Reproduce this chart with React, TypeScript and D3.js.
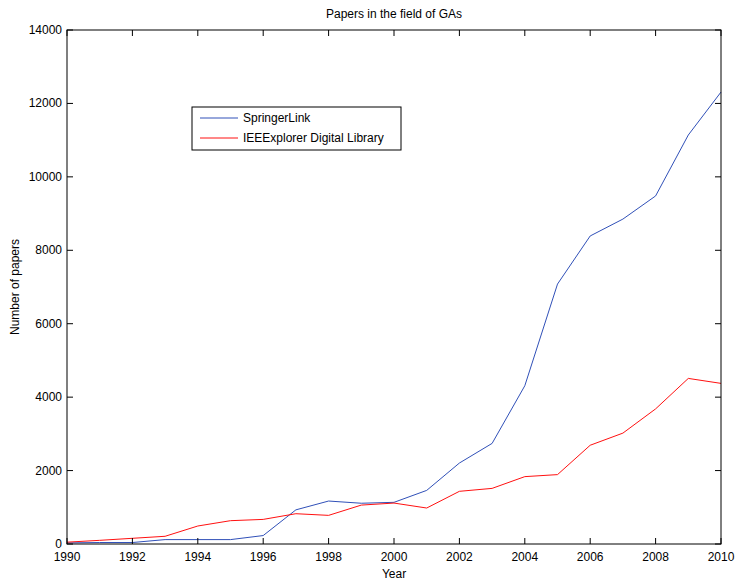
import React from "react";
import * as d3 from "d3";

const years = [1990, 1991, 1992, 1993, 1994, 1995, 1996, 1997, 1998, 1999, 2000, 2001, 2002, 2003, 2004, 2005, 2006, 2007, 2008, 2009, 2010];
const springer = [30, 40, 40, 120, 120, 120, 230, 930, 1170, 1110, 1135, 1460, 2205, 2740, 4310, 7080, 8390, 8850, 9480, 11140, 12310];
const ieee = [50, 100, 155, 210, 490, 635, 670, 825, 780, 1060, 1115, 980, 1435, 1515, 1835, 1890, 2690, 3020, 3680, 4510, 4375];
const xTicks = [1990, 1992, 1994, 1996, 1998, 2000, 2002, 2004, 2006, 2008, 2010];
const yTicks = [0, 2000, 4000, 6000, 8000, 10000, 12000, 14000];
const seriesNames = ["SpringerLink", "IEEExplorer Digital Library"];
const seriesColors = ["#3050b8", "#ff1010"];

export default function App() {
  const W = 735, H = 582;
  const L = 67, R = 721, T = 30, B = 544;
  const x = d3.scaleLinear().domain([1990, 2010]).range([L, R]);
  const y = d3.scaleLinear().domain([0, 14000]).range([B, T]);
  const line = d3.line<number>().x((_, i) => x(years[i])).y((v) => y(v));
  const font = "Arial, 'Liberation Sans', Helvetica, sans-serif";
  const tl = 6;
  return (
    <svg width={W} height={H} style={{ position: "absolute", left: 0, top: 0, background: "#fff" }} fontFamily={font}>
      <rect x={0} y={0} width={W} height={H} fill="#fff" />
      <text x={(L + R) / 2} y={18} textAnchor="middle" fontSize={12}>Papers in the field of GAs</text>
      <path d={line(springer) || ""} fill="none" stroke={seriesColors[0]} strokeWidth={1} />
      <path d={line(ieee) || ""} fill="none" stroke={seriesColors[1]} strokeWidth={1} />
      <rect x={L} y={T} width={R - L} height={B - T} fill="none" stroke="#000" strokeWidth={1} />
      {xTicks.map((t) => (
        <g key={"x" + t}>
          <line x1={x(t)} x2={x(t)} y1={B} y2={B - tl} stroke="#000" />
          <line x1={x(t)} x2={x(t)} y1={T} y2={T + tl} stroke="#000" />
          <text x={x(t)} y={561} textAnchor="middle" fontSize={12}>{t}</text>
        </g>
      ))}
      {yTicks.map((t) => (
        <g key={"y" + t}>
          <line x1={L} x2={L + tl} y1={y(t)} y2={y(t)} stroke="#000" />
          <line x1={R} x2={R - tl} y1={y(t)} y2={y(t)} stroke="#000" />
          <text x={L - 5} y={y(t) + 4} textAnchor="end" fontSize={12}>{t}</text>
        </g>
      ))}
      <text x={(L + R) / 2} y={578} textAnchor="middle" fontSize={12}>Year</text>
      <text transform={`translate(19,${(T + B) / 2}) rotate(-90)`} textAnchor="middle" fontSize={12}>Number of papers</text>
      <g>
        <rect x={192} y={107} width={209} height={43} fill="#fff" stroke="#000" strokeWidth={1} />
        {seriesNames.map((n, i) => (
          <g key={n}>
            <line x1={200} x2={238} y1={118 + i * 20} y2={118 + i * 20} stroke={seriesColors[i]} />
            <text x={243} y={122 + i * 20} fontSize={12}>{n}</text>
          </g>
        ))}
      </g>
    </svg>
  );
}
